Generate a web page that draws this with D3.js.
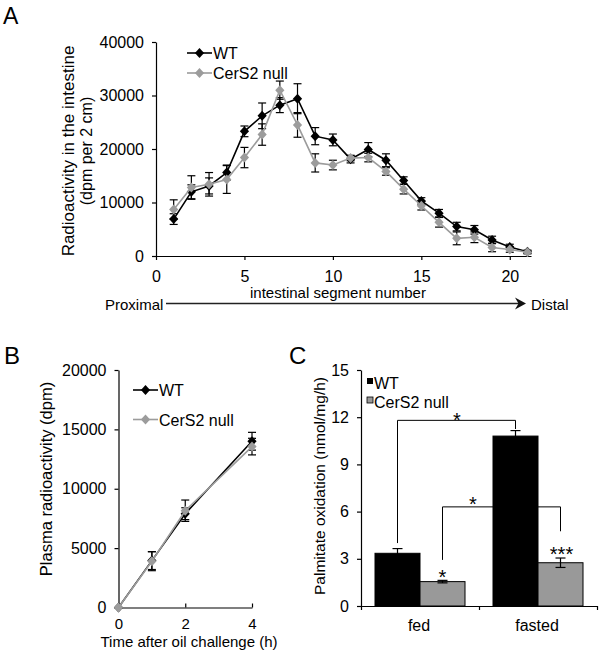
<!DOCTYPE html>
<html><head><meta charset="utf-8">
<script src="https://cdn.jsdelivr.net/npm/d3@7"></script>
<style>
body{margin:0;background:#fff}
svg{display:block;font-family:"Liberation Sans",Arial,Helvetica,sans-serif}
</style>
</head><body>
<svg id="c" width="601" height="654"></svg>
<script>
// ---------- DATA ----------
const segments = [1,2,3,4,5,6,7,8,9,10,11,12,13,14,15,16,17,18,19,20,21];
const wtIntestine    = [6900,12000,13100,15600,23300,26200,28200,29400,22400,21700,18100,19900,17900,14100,10300,8000,5500,4900,3000,1700,800];
const wtIntestineErr = [1000,1300,1500,1400,1000,2400,1400,2800,1600,1100,700,1300,1200,700,600,700,800,800,700,500,300];
const koIntestine    = [8700,12800,13400,14300,18400,22700,31000,24500,17400,17000,18300,18400,15800,12500,9400,6300,3300,3500,1600,1200,700];
const koIntestineErr = [1800,2200,2200,2600,1900,2000,1700,2300,1700,900,500,800,700,900,800,900,1200,1000,800,500,300];
const intestineXTicks = [0,5,10,15,20];
const intestineYTicks = [0,10000,20000,30000,40000];

const hours = [0,1,2,4];
const wtPlasma    = [0,3950,7900,14000];
const wtPlasmaErr = [0,750,500,750];
const koPlasma    = [0,3900,8150,13550];
const koPlasmaErr = [0,800,900,700];
const plasmaXTicks = [0,2,4];
const plasmaYTicks = [0,5000,10000,15000,20000];

const conditions = ["fed","fasted"];
const groups = ["WT","CerS2 null"];
const wtOxidation    = [3.35,10.8];
const wtOxidationErr = [0.3,0.35];
const koOxidation    = [1.55,2.75];
const koOxidationErr = [0.08,0.3];
const oxidationYTicks = [0,3,6,9,12,15];

// ---------- SETUP ----------
const svg = d3.select("#c");
const BLACK = "#000", GRAY = "#9c9c9c", BARGRAY = "#999999";
const FS = 16;

function diamond(g, x, y, color){
  g.append("path")
    .attr("d", `M${x},${y-5}L${x+4.6},${y}L${x},${y+5}L${x-4.6},${y}Z`)
    .attr("fill", color);
}
function styleAxis(g, fs){
  g.select(".domain").attr("stroke", BLACK).attr("stroke-width", 1.2);
  g.selectAll(".tick line").attr("stroke", BLACK).attr("stroke-width", 1.2);
  g.selectAll(".tick text").attr("font-size", fs || FS).attr("fill", BLACK)
    .attr("font-family", '"Liberation Sans",Arial,sans-serif');
}
function errBars(g, xs, ys, errs, x, y, cap){
  xs.forEach((xv, i) => {
    if (!errs[i]) return;
    const cx = x(xv), y1 = y(ys[i]-errs[i]), y2 = y(ys[i]+errs[i]);
    g.append("line").attr("x1",cx).attr("x2",cx).attr("y1",y1).attr("y2",y2)
      .attr("stroke",BLACK).attr("stroke-width",1.2);
    [y1,y2].forEach(yy => g.append("line").attr("x1",cx-cap).attr("x2",cx+cap)
      .attr("y1",yy).attr("y2",yy).attr("stroke",BLACK).attr("stroke-width",1.2));
  });
}
function series(g, xs, ys, x, y, color){
  g.append("path").datum(xs.map((v,i)=>[v,ys[i]]))
    .attr("d", d3.line().x(d=>x(d[0])).y(d=>y(d[1])))
    .attr("fill","none").attr("stroke",color).attr("stroke-width",1.6);
  xs.forEach((v,i)=>diamond(g, x(v), y(ys[i]), color));
}
function legendLine(g, x1, x2, y, color, label){
  g.append("line").attr("x1",x1).attr("x2",x2).attr("y1",y).attr("y2",y)
    .attr("stroke",color).attr("stroke-width",1.6);
  diamond(g, (x1+x2)/2, y, color);
  g.append("text").attr("x",x2+1).attr("y",y+6).attr("font-size",FS).text(label);
}

// ---------- PANEL A ----------
const A = svg.append("g");
A.append("text").attr("x",3).attr("y",24).attr("font-size",23).text("A");
const xA = d3.scaleLinear().domain([0,21.2]).range([156,531]);
const yA = d3.scaleLinear().domain([0,40000]).range([256,42]);
A.append("g").attr("transform","translate(0,256)")
  .call(d3.axisBottom(xA).tickValues(intestineXTicks).tickSizeInner(4).tickSizeOuter(0).tickPadding(10.5))
  .call(g=>styleAxis(g));
A.append("g").attr("transform","translate(156,0)")
  .call(d3.axisLeft(yA).tickValues(intestineYTicks).tickSizeInner(4).tickSizeOuter(0).tickPadding(8).tickFormat(d3.format("d")))
  .call(g=>styleAxis(g));
errBars(A, segments, wtIntestine, wtIntestineErr, xA, yA, 4);
errBars(A, segments, koIntestine, koIntestineErr, xA, yA, 4);
series(A, segments, wtIntestine, xA, yA, BLACK);
series(A, segments, koIntestine, xA, yA, GRAY);
legendLine(A, 187, 212, 53, BLACK, "WT");
legendLine(A, 187, 212, 73, GRAY, "CerS2 null");
A.append("text").attr("transform","translate(74,151) rotate(-90)").attr("text-anchor","middle")
  .attr("font-size",17).text("Radioactivity in the intestine");
A.append("text").attr("transform","translate(91.5,151) rotate(-90)").attr("text-anchor","middle")
  .attr("font-size",16).text("(dpm per 2 cm)");
A.append("text").attr("x",338).attr("y",297.5).attr("text-anchor","middle").attr("font-size",15)
  .text("intestinal segment number");
A.append("text").attr("x",105).attr("y",310).attr("font-size",15).text("Proximal");
A.append("text").attr("x",531).attr("y",310).attr("font-size",15).text("Distal");
A.append("line").attr("x1",166).attr("x2",521).attr("y1",303.5).attr("y2",303.5)
  .attr("stroke","#222").attr("stroke-width",1.6);
A.append("path").attr("d","M515,297.5 L526,303.5 L515,309.5 L518.5,303.5 Z").attr("fill","#111");

// ---------- PANEL B ----------
const B = svg.append("g");
B.append("text").attr("x",4).attr("y",364).attr("font-size",24).text("B");
const xB = d3.scaleLinear().domain([0,4]).range([118.5,252]);
const yB = d3.scaleLinear().domain([0,20000]).range([607.5,370]);
B.append("g").attr("transform","translate(0,607.5)")
  .call(d3.axisBottom(xB).tickValues(plasmaXTicks).tickSizeInner(-4).tickSizeOuter(0).tickPadding(11).tickFormat(d3.format("d")))
  .call(g=>styleAxis(g,15));
B.append("g").attr("transform","translate(118.5,0)")
  .call(d3.axisLeft(yB).tickValues(plasmaYTicks).tickSizeInner(4).tickSizeOuter(0).tickPadding(8).tickFormat(d3.format("d")))
  .call(g=>styleAxis(g));
errBars(B, hours, wtPlasma, wtPlasmaErr, xB, yB, 4);
errBars(B, hours, koPlasma, koPlasmaErr, xB, yB, 4);
series(B, hours, wtPlasma, xB, yB, BLACK);
series(B, hours, koPlasma, xB, yB, GRAY);
legendLine(B, 133, 158, 390, BLACK, "WT");
legendLine(B, 133, 158, 419.5, GRAY, "CerS2 null");
B.append("text").attr("transform","translate(52,479) rotate(-90)").attr("text-anchor","middle")
  .attr("font-size",16.5).text("Plasma radioactivity (dpm)");
B.append("text").attr("x",189).attr("y",647).attr("text-anchor","middle").attr("font-size",15)
  .text("Time after oil challenge (h)");

// ---------- PANEL C ----------
const C = svg.append("g");
C.append("text").attr("x",289).attr("y",364).attr("font-size",24).text("C");
const xC = d3.scaleBand().domain(conditions).range([361,597]).padding(0);
const xG = d3.scaleBand().domain(groups).range([14,104]).padding(0);
const yC = d3.scaleLinear().domain([0,15]).range([606,370]);
const barData = [];
conditions.forEach((c,i)=>{
  barData.push({c, g:groups[0], v:wtOxidation[i], e:wtOxidationErr[i]});
  barData.push({c, g:groups[1], v:koOxidation[i], e:koOxidationErr[i]});
});
C.selectAll("rect.bar").data(barData).enter().append("rect")
  .attr("x", d=>xC(d.c)+xG(d.g)).attr("width", xG.bandwidth())
  .attr("y", d=>yC(d.v)).attr("height", d=>yC(0)-yC(d.v))
  .attr("fill", d=>d.g==="WT"?BLACK:BARGRAY).attr("stroke",BLACK).attr("stroke-width",1);
barData.forEach(d=>{
  const cx = xC(d.c)+xG(d.g)+xG.bandwidth()/2;
  const yt = yC(d.v+d.e), yb = yC(d.v-d.e);
  C.append("line").attr("x1",cx).attr("x2",cx).attr("y1",yt).attr("y2",yb).attr("stroke",BLACK).attr("stroke-width",1.2);
  [yt,yb].forEach(yy=>C.append("line").attr("x1",cx-5).attr("x2",cx+5).attr("y1",yy).attr("y2",yy)
    .attr("stroke",BLACK).attr("stroke-width",1.2));
});
const xAxC = d3.axisBottom(d3.scaleLinear().domain([361,597]).range([361,597]))
  .tickValues([361,479,597]).tickSizeInner(4).tickSizeOuter(0).tickFormat("");
C.append("g").attr("transform","translate(0,606)").call(xAxC).call(g=>styleAxis(g));
conditions.forEach(c=>{
  C.append("text").attr("x", xC(c)+xC.bandwidth()/2-1).attr("y",631).attr("text-anchor","middle")
    .attr("font-size",FS).text(c);
});
C.append("g").attr("transform","translate(361,0)")
  .call(d3.axisLeft(yC).tickValues(oxidationYTicks).tickSizeInner(4).tickSizeOuter(0).tickPadding(8))
  .call(g=>styleAxis(g));
C.append("text").attr("transform","translate(325,486) rotate(-90)").attr("text-anchor","middle")
  .attr("font-size",15.5).text("Palmitate oxidation (nmol/mg/h)");
// legend
C.append("rect").attr("x",367).attr("y",378).attr("width",6).attr("height",6).attr("fill",BLACK);
C.append("text").attr("x",374).attr("y",389).attr("font-size",FS).text("WT");
C.append("rect").attr("x",367).attr("y",397).attr("width",6).attr("height",6).attr("fill",BARGRAY)
  .attr("stroke",BLACK).attr("stroke-width",0.8);
C.append("text").attr("x",374).attr("y",408).attr("font-size",FS).text("CerS2 null");
// significance brackets
const cxOf = (c,g)=>xC(c)+xG(g)+xG.bandwidth()/2;
const br1y = yC(11.8);
C.append("path").attr("d",
  `M${cxOf("fed","WT")},${yC(wtOxidation[0]+wtOxidationErr[0]+0.35)} V${br1y} H${cxOf("fasted","WT")} V${yC(wtOxidation[1]+wtOxidationErr[1]+0.1)}`)
  .attr("fill","none").attr("stroke",BLACK).attr("stroke-width",1);
C.append("text").attr("x",457).attr("y",427).attr("text-anchor","middle").attr("font-size",20).text("*");
const br2y = yC(6.3);
C.append("path").attr("d",
  `M${cxOf("fed","CerS2 null")},${yC(koOxidation[0]+koOxidationErr[0]+1.3)} V${br2y} H${xC("fasted")+xG("WT")}`)
  .attr("fill","none").attr("stroke",BLACK).attr("stroke-width",1);
C.append("path").attr("d",
  `M${xC("fasted")+xG("CerS2 null")},${br2y} H${cxOf("fasted","CerS2 null")} V${yC(4.75)}`)
  .attr("fill","none").attr("stroke",BLACK).attr("stroke-width",1);
C.append("text").attr("x",473).attr("y",511).attr("text-anchor","middle").attr("font-size",20).text("*");
C.append("text").attr("x",cxOf("fed","CerS2 null")).attr("y",584).attr("text-anchor","middle").attr("font-size",20).text("*");
C.append("text").attr("x",cxOf("fasted","CerS2 null")+1).attr("y",561).attr("text-anchor","middle").attr("font-size",20).text("***");
</script>
</body></html>
